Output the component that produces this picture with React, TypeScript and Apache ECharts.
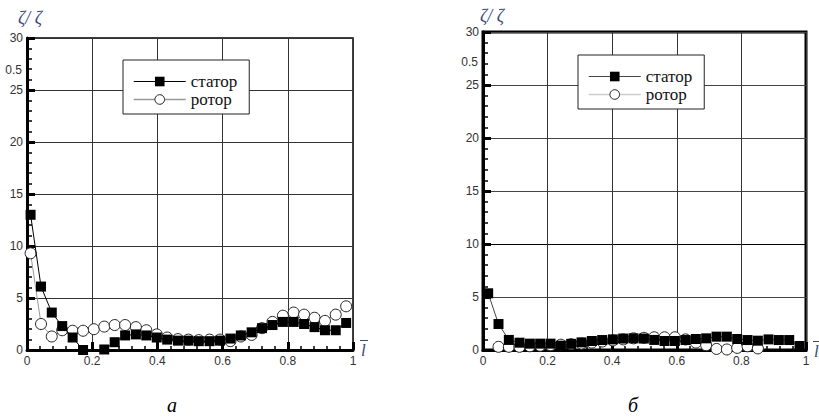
import React, { useEffect, useRef } from "react";
import * as echarts from "echarts";

// ---- data ----
const xTicks = [0, 0.2, 0.4, 0.6, 0.8, 1];
const yTicks = [0, 5, 10, 15, 20, 25, 30];
const seriesNames = ["статор", "ротор"];
const panelCaptions = ["а", "б"];
const yTitle = "ζ/ ζ";
const xTitle = "l";
const extraYLabel = "0.5";

const xsA = [0.011, 0.043, 0.076, 0.108, 0.140, 0.172, 0.205, 0.237, 0.269, 0.301, 0.334, 0.366, 0.398, 0.430, 0.463, 0.495, 0.527, 0.560, 0.592, 0.624, 0.656, 0.689, 0.721, 0.753, 0.785, 0.818, 0.850, 0.882, 0.914, 0.947, 0.979];
const statorA = [13.0, 6.1, 3.6, 2.3, 1.2, 0.0, null, 0.05, 0.75, 1.4, 1.5, 1.4, 1.2, 1.0, 0.9, 0.9, 0.85, 0.85, 0.9, 1.1, 1.4, 1.7, 2.1, 2.4, 2.7, 2.7, 2.5, 2.2, 1.9, 1.9, 2.6];
const rotorA = [9.3, 2.5, 1.3, 1.9, 1.85, 1.85, 2.0, 2.25, 2.4, 2.4, 2.2, 1.9, 1.5, 1.2, 1.05, 1.0, 0.95, 1.0, 1.0, 0.85, 1.3, 1.45, 2.1, 2.7, 3.3, 3.6, 3.4, 3.1, 2.8, 3.4, 4.2];

const xsB = [0.016, 0.048, 0.080, 0.113, 0.145, 0.177, 0.209, 0.241, 0.273, 0.305, 0.337, 0.369, 0.402, 0.434, 0.466, 0.498, 0.530, 0.562, 0.594, 0.627, 0.659, 0.691, 0.723, 0.755, 0.787, 0.819, 0.851, 0.884, 0.916, 0.948, 0.980];
const statorB = [5.35, 2.45, 0.95, 0.69, 0.6, 0.6, 0.6, 0.41, 0.58, 0.72, 0.85, 0.94, 1.0, 1.08, 1.1, 1.08, 0.95, 0.85, 0.85, 0.94, 1.04, 1.1, 1.26, 1.26, 1.04, 0.94, 0.88, 1.0, 0.94, 0.94, 0.38];
const rotorB = [null, 0.3, 0.3, 0.3, 0.35, 0.4, 0.45, 0.5, 0.55, 0.6, 0.7, 0.8, 0.9, 1.0, 1.1, 1.15, 1.2, 1.2, 1.2, 1.0, 0.7, 0.45, 0.1, 0.05, 0.2, 0.35, 0.15, null, null, null, null];

const pairs = (xs: number[], ys: (number | null)[]) =>
  xs.map((x, i) => [x, ys[i] === null ? null : ys[i]]);

const TITLE_COLOR = "#3b4a7a";
const SERIF = "Liberation Serif";
const SANS = "Liberation Sans";

function makeX(gridIndex: number) {
  return {
    type: "value",
    gridIndex,
    min: xTicks[0],
    max: xTicks[xTicks.length - 1],
    interval: xTicks[1] - xTicks[0],
    axisLine: { show: true, onZero: false, lineStyle: { color: "#000", width: 3 } },
    axisTick: { show: true, inside: true, length: 8, lineStyle: { color: "#000", width: 3 } },
    minorTick: { show: true, splitNumber: 5, length: 4, lineStyle: { color: "#000", width: 1.5 } },
    axisLabel: { color: "#333", fontSize: 12, fontFamily: SANS, margin: 5 },
    splitLine: { show: true, lineStyle: { color: "#333", width: 1 } },
  };
}

function makeY(gridIndex: number, splitColors: string[] | string) {
  return {
    type: "value",
    gridIndex,
    min: yTicks[0],
    max: yTicks[yTicks.length - 1],
    interval: yTicks[1] - yTicks[0],
    axisLine: { show: true, onZero: false, lineStyle: { color: "#000", width: 3 } },
    axisTick: { show: true, inside: true, length: 8, lineStyle: { color: "#000", width: 3 } },
    minorTick: { show: true, splitNumber: 5, length: 5, lineStyle: { color: "#000", width: 1.5 } },
    axisLabel: { color: "#333", fontSize: 12, fontFamily: SANS, margin: 4 },
    splitLine: { show: true, lineStyle: { color: splitColors, width: 1 } },
  };
}

function legendFor(left: number, top: number, statorLine: string, rotorLine: string) {
  return {
    orient: "vertical",
    left,
    top,
    padding: [13, 12, 6, 10],
    itemWidth: 52,
    itemHeight: 12,
    itemGap: 1,
    backgroundColor: "#fff",
    borderColor: "#222",
    borderWidth: 1,
    borderRadius: 0,
    textStyle: { fontFamily: SERIF, fontSize: 17, color: "#111", lineHeight: 16 },
    data: [
      { name: seriesNames[0], itemStyle: { color: "#000", borderColor: "#000", borderWidth: 0 }, lineStyle: { color: statorLine, width: 1 } },
      { name: seriesNames[1], itemStyle: { color: "#fff", borderColor: "#222", borderWidth: 1 }, lineStyle: { color: rotorLine, width: 1.5 } },
    ],
  };
}

function lineSeries(name: string, xi: number, data: any[], kind: "square" | "circle", lineColor: string, z: number) {
  return {
    name,
    type: "line",
    xAxisIndex: xi,
    yAxisIndex: xi,
    data,
    connectNulls: kind === "square",
    symbol: kind === "square" ? "rect" : "circle",
    symbolSize: kind === "square" ? 10 : 11,
    showAllSymbol: true,
    itemStyle:
      kind === "square"
        ? { color: "#000", borderWidth: 0 }
        : { color: "#fff", borderColor: "#222", borderWidth: 1 },
    lineStyle: { color: lineColor, width: 1 },
    z,
    clip: true,
  };
}

export default function App() {
  const ref = useRef<HTMLDivElement>(null);
  useEffect(() => {
    if (!ref.current) return;
    const chart = echarts.init(ref.current, undefined, { renderer: "svg" });
    const splitB = ["#444", "#444", "#000", "#444", "#444", "#444", "#444"];
    chart.setOption({
      animation: false,
      backgroundColor: "#fff",
      grid: [
        { left: 27, top: 38, width: 326, height: 312, show: true, borderColor: "#000", borderWidth: 1.5, backgroundColor: "transparent" },
        { left: 483, top: 32, width: 323, height: 318, show: true, borderColor: "#000", borderWidth: 3, backgroundColor: "transparent" },
      ],
      xAxis: [makeX(0), makeX(1)],
      yAxis: [makeY(0, "#333"), makeY(1, splitB)],
      legend: [legendFor(123, 60, "#000", "#999"), legendFor(578, 55, "#444", "#ccc")],
      series: [
        lineSeries(seriesNames[1], 0, pairs(xsA, rotorA), "circle", "#999", 2),
        lineSeries(seriesNames[0], 0, pairs(xsA, statorA), "square", "#000", 3),
        lineSeries(seriesNames[1], 1, pairs(xsB, rotorB), "circle", "#ccc", 2),
        lineSeries(seriesNames[0], 1, pairs(xsB, statorB), "square", "#444", 3),
      ],
      graphic: [
        { type: "text", x: 18, y: 18, style: { text: yTitle, font: `italic 18px ${SERIF}`, fill: TITLE_COLOR, textVerticalAlign: "middle" } },
        { type: "text", x: 480, y: 16, style: { text: yTitle, font: `italic 18px ${SERIF}`, fill: TITLE_COLOR, textVerticalAlign: "middle" } },
        { type: "text", x: 22, y: 70, style: { text: extraYLabel, font: `12px ${SANS}`, fill: "#333", textAlign: "right", textVerticalAlign: "middle" } },
        { type: "text", x: 478, y: 62, style: { text: extraYLabel, font: `12px ${SANS}`, fill: "#333", textAlign: "right", textVerticalAlign: "middle" } },
        { type: "text", x: 361, y: 350, style: { text: xTitle, font: `italic 17px ${SERIF}`, fill: TITLE_COLOR, textVerticalAlign: "middle" } },
        { type: "line", shape: { x1: 360, y1: 340.5, x2: 368, y2: 340.5 }, style: { stroke: TITLE_COLOR, lineWidth: 1 } },
        { type: "text", x: 814, y: 351, style: { text: xTitle, font: `italic 17px ${SERIF}`, fill: TITLE_COLOR, textVerticalAlign: "middle" } },
        { type: "line", shape: { x1: 813, y1: 341.5, x2: 819, y2: 341.5 }, style: { stroke: TITLE_COLOR, lineWidth: 1 } },
        { type: "text", x: 172, y: 405, style: { text: panelCaptions[0], font: `italic 20px ${SERIF}`, fill: "#000", textAlign: "center", textVerticalAlign: "middle" } },
        { type: "text", x: 633, y: 405, style: { text: panelCaptions[1], font: `italic 20px ${SERIF}`, fill: "#000", textAlign: "center", textVerticalAlign: "middle" } },
      ],
    });
    return () => chart.dispose();
  }, []);
  return (
    <div
      ref={ref}
      style={{ position: "absolute", left: 0, top: 0, width: 819, height: 417, background: "#fff" }}
    />
  );
}
